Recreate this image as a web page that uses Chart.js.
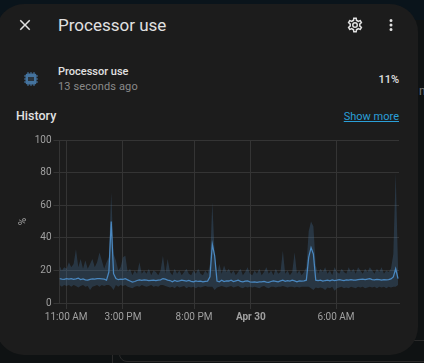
<!DOCTYPE html>
<html lang="en">
<head>
  <meta charset="UTF-8" />
  <title>Processor use</title>
  <style>
    * { box-sizing: border-box; margin: 0; padding: 0; }
    html, body { width: 424px; height: 363px; overflow: hidden; background: #0f1213; font-family: Roboto, sans-serif; }
    .topbar { position: absolute; left: 0; top: 0; width: 424px; height: 20px; background: #0a141b; }
    .behind { position: absolute; left: 119px; top: 340px; width: 320px; height: 22px; border: 1px solid #2a2a2a; border-radius: 8px; }
    .vline { position: absolute; left: 112px; top: 350px; width: 1px; height: 13px; background: #2a2a2a; }
    .side { position: absolute; left: 419px; top: 84px; font-size: 12px; color: #777; }
    .dialog { position: absolute; left: -4px; top: 4px; width: 422px; height: 351px; background: #1c1c1c; border-radius: 28px; }
    .t { position: absolute; white-space: nowrap; }
    #title { left: 58px; top: 13px; font-size: 17px; line-height: 24px; color: #e1e1e1; }
    #name { left: 58px; top: 64px; font-size: 11px; line-height: 15px; font-weight: 500; color: #e1e1e1; }
    #ago { left: 58px; top: 79px; font-size: 11px; line-height: 15px; color: #8a8a8a; letter-spacing: .15px; }
    #state { right: 25px; top: 72px; font-size: 11px; line-height: 15px; font-weight: 500; color: #e1e1e1; }
    #hist { left: 16px; top: 108px; font-size: 12.5px; line-height: 16px; font-weight: 500; color: #e1e1e1; }
    #more { right: 25px; top: 109px; font-size: 11px; line-height: 15px; color: #2a9fd8; text-decoration: underline; }
    svg { position: absolute; }
    canvas { position: absolute; left: 10px; top: 130px; }
  </style>
</head>
<body>
  <div class="topbar"></div>
  <div class="behind"></div>
  <div class="vline"></div>
  <div class="side">ng</div>
  <div class="dialog"></div>

  <svg style="left:16px;top:16px" width="18" height="18" viewBox="0 0 24 24"><path fill="#e1e1e1" d="M19,6.41L17.59,5L12,10.59L6.41,5L5,6.41L10.59,12L5,17.59L6.41,19L12,13.41L17.59,19L19,17.59L13.41,12L19,6.41Z"/></svg>
  <div class="t" id="title">Processor use</div>
  <svg style="left:346px;top:16px" width="18" height="18" viewBox="0 0 24 24"><path fill="#e1e1e1" d="M12,8A4,4 0 0,1 16,12A4,4 0 0,1 12,16A4,4 0 0,1 8,12A4,4 0 0,1 12,8M12,10A2,2 0 0,0 10,12A2,2 0 0,0 12,14A2,2 0 0,0 14,12A2,2 0 0,0 12,10M10,22C9.75,22 9.54,21.82 9.5,21.58L9.13,18.93C8.5,18.68 7.96,18.34 7.44,17.94L4.95,18.95C4.73,19.03 4.46,18.95 4.34,18.73L2.34,15.27C2.21,15.05 2.27,14.78 2.46,14.63L4.57,12.97L4.5,12L4.57,11L2.46,9.37C2.27,9.22 2.21,8.95 2.34,8.73L4.34,5.27C4.46,5.05 4.73,4.96 4.95,5.05L7.44,6.05C7.96,5.66 8.5,5.32 9.13,5.07L9.5,2.42C9.54,2.18 9.75,2 10,2H14C14.25,2 14.46,2.18 14.5,2.42L14.87,5.07C15.5,5.32 16.04,5.66 16.56,6.05L19.05,5.05C19.27,4.96 19.54,5.05 19.66,5.27L21.66,8.73C21.79,8.95 21.73,9.22 21.54,9.37L19.43,11L19.5,12L19.43,13L21.54,14.63C21.73,14.78 21.79,15.05 21.66,15.27L19.66,18.73C19.54,18.95 19.27,19.04 19.05,18.95L16.56,17.95C16.04,18.34 15.5,18.68 14.87,18.93L14.5,21.58C14.46,21.82 14.25,22 14,22H10M11.25,4L10.88,6.61C9.68,6.86 8.62,7.5 7.85,8.39L5.44,7.35L4.69,8.65L6.8,10.2C6.4,11.37 6.4,12.64 6.8,13.8L4.68,15.36L5.43,16.66L7.86,15.62C8.63,16.5 9.68,17.14 10.87,17.38L11.24,20H12.76L13.13,17.39C14.32,17.14 15.37,16.5 16.14,15.62L18.57,16.66L19.32,15.36L17.2,13.81C17.6,12.64 17.6,11.37 17.2,10.2L19.31,8.65L18.56,7.35L16.15,8.39C15.38,7.5 14.32,6.86 13.13,6.62L12.75,4H11.25Z"/></svg>
  <svg style="left:382px;top:16px" width="18" height="18" viewBox="0 0 24 24"><path fill="#e1e1e1" d="M12,16A2,2 0 0,1 14,18A2,2 0 0,1 12,20A2,2 0 0,1 10,18A2,2 0 0,1 12,16M12,10A2,2 0 0,1 14,12A2,2 0 0,1 12,14A2,2 0 0,1 10,12A2,2 0 0,1 12,10M12,4A2,2 0 0,1 14,6A2,2 0 0,1 12,8A2,2 0 0,1 10,6A2,2 0 0,1 12,4Z"/></svg>

  <svg style="left:23px;top:71px" width="16" height="16" viewBox="0 0 16 16">
    <path stroke="#44739e" stroke-width="1" d="M5 1v14M8 1v14M11 1v14M1 5h14M1 8h14M1 11h14"/>
    <rect x="2.5" y="2.5" width="11" height="11" rx="2" fill="#44739e"/>
    <rect x="5" y="6" width="6" height="4" fill="#2b3640"/>
  </svg>
  <div class="t" id="name">Processor use</div>
  <div class="t" id="ago">13 seconds ago</div>
  <div class="t" id="state">11%</div>
  <div class="t" id="hist">History</div>
  <div class="t" id="more">Show more</div>

  <canvas id="historyChart" width="400" height="195"></canvas>

  <script src="https://cdn.jsdelivr.net/npm/chart.js"></script>
  <script>
    // evenly spaced samples, first one at startHour (hours counted from Apr 29 00:00)
    const startHour = 10.53;
    const stepHours = 0.1655;

    const meanValues = [
      15, 14.7, 14.5, 15, 14.6, 15, 14.5, 14.8, 15.2, 14.4, 14.8, 14.2,
      14, 14.5, 14.8, 14.6, 14.9, 15, 14.8, 14.6, 14, 19, 50, 18,
      15, 14.3, 14.7, 14.5, 14.9, 14.2, 13.5, 12.8, 13.2, 13.8, 14.2, 13.9,
      14.2, 14, 13.7, 13.9, 14.1, 13.8, 14, 14.2, 15, 14.6, 14, 13.8,
      13, 13.8, 13.3, 13.6, 14, 13.7, 13.4, 13.8, 13.3, 13, 13.6, 13.2,
      13.4, 13, 13.2, 13.4, 16, 36, 29, 13.5, 13, 14, 13.2, 13.6,
      13.5, 14, 13.2, 13.6, 14, 13.3, 13, 13.4, 13.5, 13, 12.8, 13,
      12.6, 12.9, 13, 13.2, 12.8, 12.7, 13.2, 13.5, 13.3, 13, 13.6, 14,
      13.3, 13.7, 13.4, 14, 13.6, 13, 13.5, 13.4, 13.6, 14, 28, 34,
      30, 14, 13.7, 14, 13.5, 13.8, 14, 13.6, 14.2, 13.8, 14, 14.3,
      14, 13.8, 14.2, 14, 14.4, 14.1, 14, 14.3, 14.5, 14.6, 14.3, 14.7,
      15, 14.4, 14.2, 14.5, 14.3, 14, 14.4, 14.2, 14.3, 14.8, 16, 21,
      15
    ];

    const maxValues = [
      23, 20, 22, 21, 25, 22, 24, 33, 22, 27, 21, 26,
      21, 24, 27, 22, 25, 31, 26, 21, 25, 28, 68, 30,
      26, 20, 22, 28, 29, 19, 21, 17, 20, 18, 25, 18,
      20, 18, 21, 17, 20, 19, 17, 20, 29, 18, 27, 19,
      17, 21, 18, 20, 17, 19, 21, 18, 17, 20, 18, 21,
      18, 17, 20, 18, 24, 62, 30, 18, 24, 18, 23, 19,
      21, 18, 20, 17, 19, 21, 17, 19, 22, 18, 17, 20,
      18, 21, 17, 19, 22, 18, 20, 17, 21, 18, 19, 32,
      18, 20, 17, 19, 31, 18, 20, 17, 19, 22, 44, 50,
      47, 23, 18, 21, 19, 22, 18, 20, 17, 22, 19, 18,
      21, 19, 18, 22, 19, 21, 18, 22, 20, 18, 21, 19,
      22, 20, 18, 21, 19, 22, 18, 20, 19, 21, 30, 80,
      22
    ];

    const minValues = [
      11, 10, 11, 10.5, 11, 10, 11, 10.5, 9.5, 10.5, 11, 10,
      10.5, 8, 10, 10.5, 11, 10, 11, 10.5, 11, 11, 10, 8,
      11, 10, 11, 10.5, 11, 10, 9.5, 9, 10, 10.5, 10, 11,
      10.5, 10, 10.5, 11, 10, 10.5, 10, 11, 11, 10.5, 10, 9.5,
      10, 9, 10.5, 9.5, 10, 10.5, 9, 10, 9.5, 10, 9, 10,
      9.5, 10, 10.5, 10, 10, 10, 8, 9.5, 10, 10.5, 10, 9.5,
      10, 10.5, 9.5, 10, 10.5, 9.5, 9, 10, 9.5, 10, 9.5, 10,
      9.5, 9, 10, 10.5, 9.5, 9, 10, 10, 9.5, 10, 10, 10.5,
      10, 9.5, 10, 10, 9.5, 10, 9.5, 10, 10, 10, 10, 9,
      8, 9.5, 9, 9.5, 9, 8, 9.5, 9, 10, 7.5, 9, 9.5,
      10, 9, 9.5, 9, 10, 9.5, 9, 10, 9.5, 10, 9, 9.5,
      10, 9.5, 10, 9, 10, 9.5, 10, 9, 10, 9.5, 10, 10,
      11
    ];

    const xTickHours = [11, 15, 20, 24, 30];
    const xTickLabels = ['11:00 AM', '3:00 PM', '8:00 PM', 'Apr 30', '6:00 AM'];
    const boldTick = 'Apr 30';

    const toPoints = arr => arr.map((v, i) => ({ x: startHour + i * stepHours, y: v }));

    // keeps the plot box where it is in the screenshot
    const plotLeft = 49.5;
    const plotBottom = 22;

    function tickFont(ctx) {
      const bold = ctx.tick && xTickLabels[xTickHours.indexOf(ctx.tick.value)] === boldTick;
      return { family: 'Roboto', size: 10, weight: bold ? 'bold' : 'normal' };
    }

    new Chart(document.getElementById('historyChart'), {
      type: 'line',
      data: {
        datasets: [
          {
            label: 'Mean',
            data: toPoints(meanValues),
            borderColor: '#4a88c0',
            borderWidth: 1.25,
            pointRadius: 0,
            fill: false,
            order: 0
          },
          {
            label: 'Max',
            data: toPoints(maxValues),
            borderWidth: 0,
            borderColor: 'transparent',
            backgroundColor: 'rgba(68, 115, 158, 0.3)',
            pointRadius: 0,
            fill: '+1',
            order: 1
          },
          {
            label: 'Min',
            data: toPoints(minValues),
            borderWidth: 0,
            borderColor: 'transparent',
            pointRadius: 0,
            fill: false,
            order: 2
          }
        ]
      },
      options: {
        responsive: false,
        animation: false,
        layout: { padding: { top: 10, right: 11, left: 0, bottom: 0 } },
        plugins: { legend: { display: false }, tooltip: { enabled: false } },
        scales: {
          x: {
            type: 'linear',
            min: 10.53,
            max: 34.43,
            afterBuildTicks: axis => { axis.ticks = xTickHours.map(v => ({ value: v })); },
            afterFit: axis => { axis.height = plotBottom; },
            grid: { color: '#343434', tickLength: 6 },
            border: { color: '#343434' },
            ticks: {
              autoSkip: false,
              maxRotation: 0,
              padding: 2,
              color: '#a0a0a0',
              font: tickFont,
              callback: v => xTickLabels[xTickHours.indexOf(v)]
            }
          },
          y: {
            min: 0,
            max: 100,
            afterFit: axis => { axis.width = plotLeft; },
            grid: { color: '#343434', tickLength: 6 },
            border: { color: '#343434' },
            ticks: { stepSize: 20, padding: 2, color: '#a0a0a0', font: { family: 'Roboto', size: 10 } },
            title: { display: true, text: '%', color: '#a0a0a0', font: { family: 'Roboto', size: 10 }, padding: { top: 7, bottom: 0 } }
          }
        }
      }
    });
  </script>
</body>
</html>
